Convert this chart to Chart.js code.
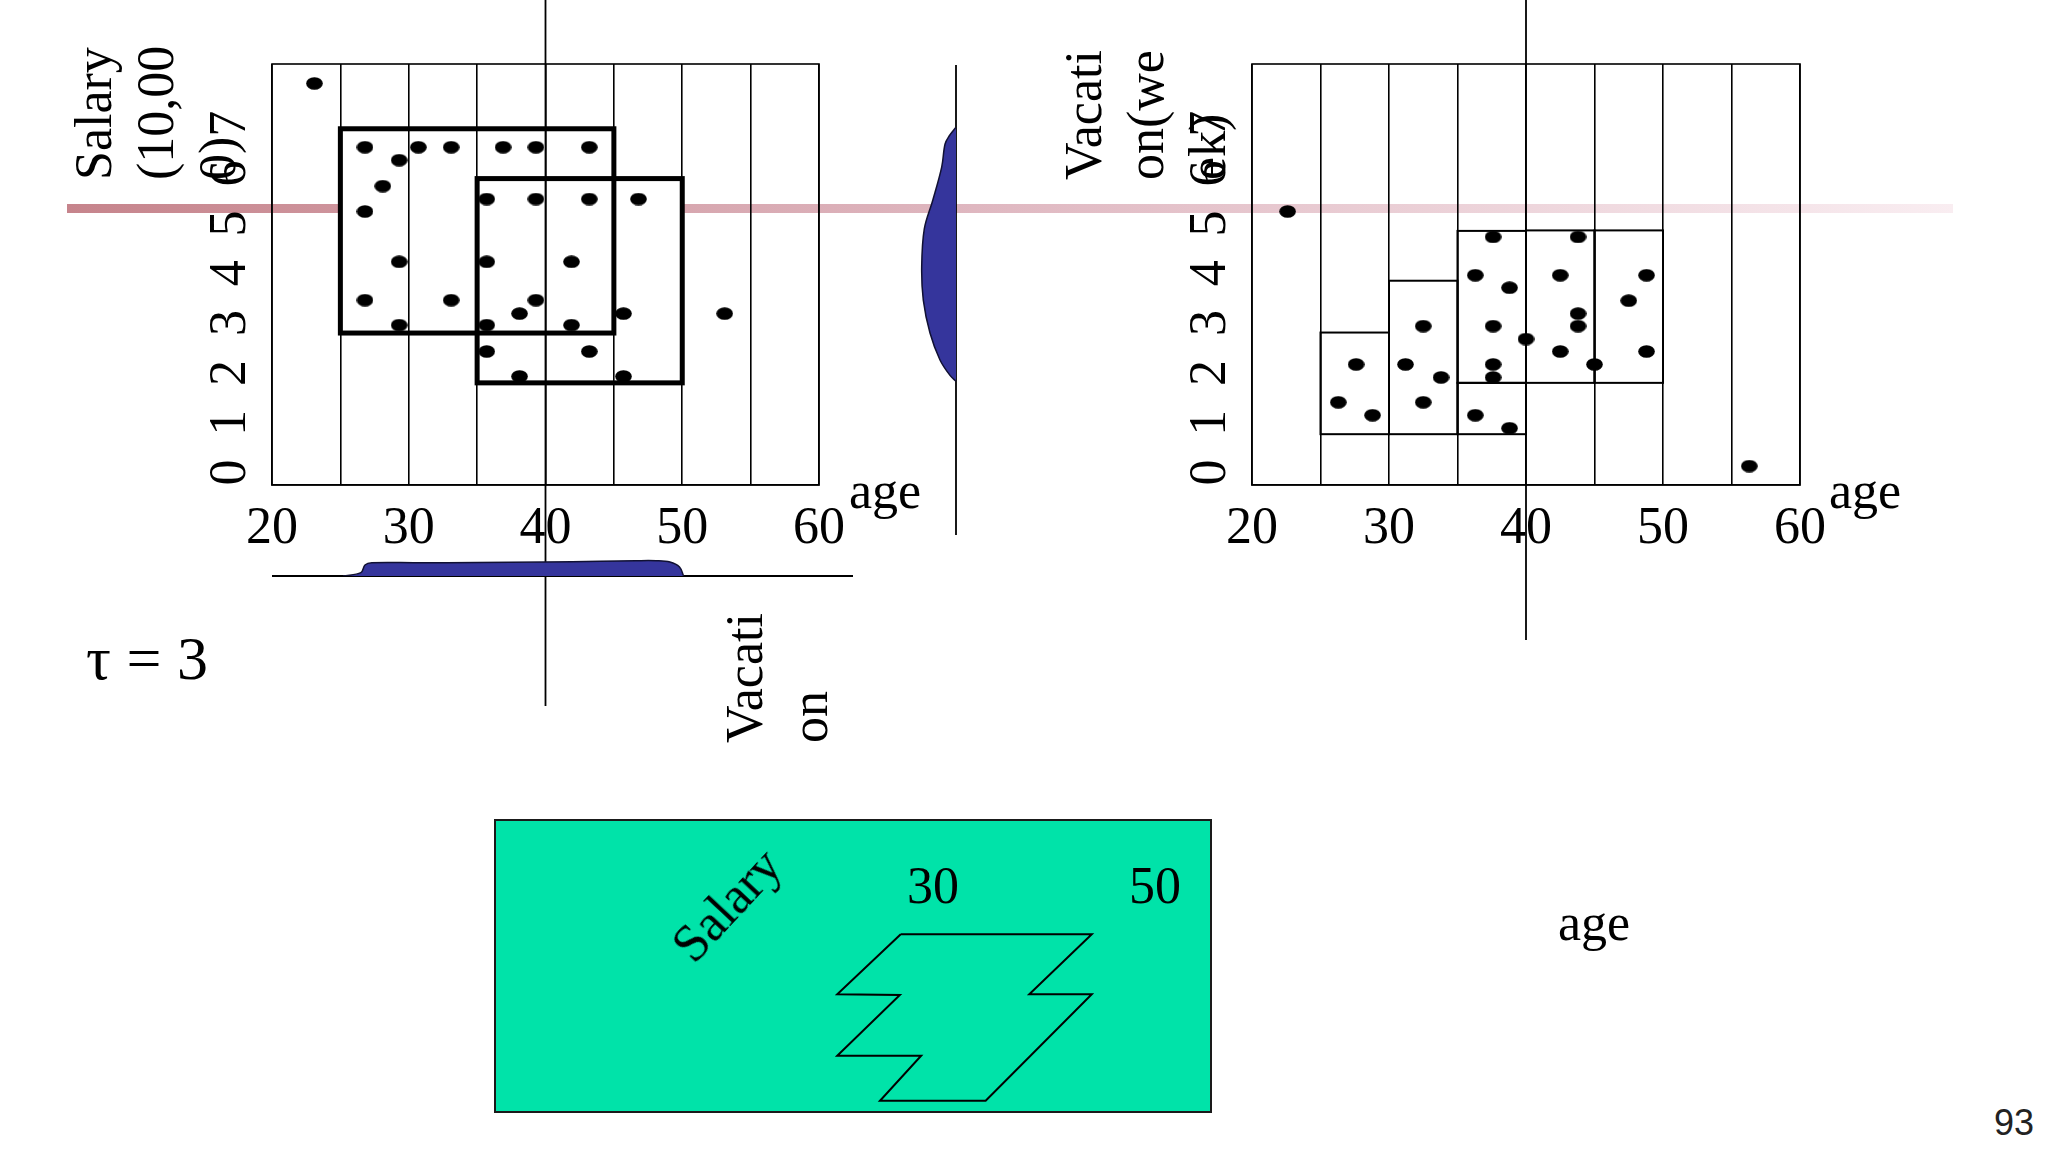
<!DOCTYPE html>
<html>
<head>
<meta charset="utf-8">
<script src="https://cdn.jsdelivr.net/npm/chart.js@4.4.1/dist/chart.umd.min.js"></script>
<style>
  html, body { margin: 0; padding: 0; background: #fff; }
  body { width: 2048px; height: 1152px; position: relative; overflow: hidden;
         font-family: 'Liberation Serif', 'Times New Roman', serif; color: #000; }
  canvas { position: absolute; z-index: 1; }
  .txt { position: absolute; white-space: nowrap; font-size: 52px; line-height: 1.2; z-index: 3; }
  .rot { transform-origin: 0 0; transform: rotate(-90deg); line-height: 62px; }
  #pink { position: absolute; left: 67px; top: 204px; width: 1886px; height: 9px; z-index: 0;
          background: linear-gradient(to right, #c6848c, #e0b9c2 50%, #f9edf1); }
  #greenBox { position: absolute; left: 494px; top: 819px; width: 714px; height: 290px; z-index: 0;
              background: #00e3a9; border: 2px solid #1a1a1a; }
</style>
</head>
<body>
<div id="pink"></div>
<div id="greenBox"></div>

<canvas id="salaryChart" width="1000" height="720" style="left:0;top:0"></canvas>
<canvas id="vacationChart" width="1048" height="720" style="left:1000px;top:0"></canvas>
<canvas id="ageDensity" width="700" height="40" style="left:172px;top:540px"></canvas>
<canvas id="salaryDensity" width="80" height="480" style="left:900px;top:40px"></canvas>
<canvas id="cubeChart" width="718" height="294" style="left:494px;top:819px"></canvas>

<div class="txt rot" style="left:63px;top:180px">Salary<br>(10,00<br>0)</div>
<div class="txt rot" style="left:1053px;top:180px">Vacati<br>on(we<br>ek)</div>
<div class="txt rot" style="left:712px;top:743px;line-height:65px">Vacati<br>on</div>
<div class="txt" style="left:849px;top:460px">age</div>
<div class="txt" style="left:1829px;top:460px">age</div>
<div class="txt" style="left:1558px;top:892px">age</div>
<div class="txt" style="left:86px;top:621px;font-size:62px">τ = 3</div>
<div class="txt" style="left:727px;top:905px;transform:translate(-50%,-50%) rotate(-47deg)">Salary</div>
<div class="txt" style="right:14px;top:1101px;font-family:'Liberation Sans',Arial,sans-serif;font-size:36px;color:#222">93</div>

<script>
// tick labels
const xTickLabels = ["20", "30", "40", "50", "60"];
const yTickLabels = ["0", "1", "2", "3", "4", "5", "6", "7"];
const cubeTicks = [30, 50];

// salary vs age points
const salaryAge = [23.1, 26.8, 30.7, 33.1, 36.9, 39.3, 43.2, 29.3, 28.1, 26.8, 35.7, 39.3, 43.2, 46.8, 29.3,
  35.7, 41.9, 26.8, 33.1, 39.3, 38.1, 45.7, 53.1, 29.3, 35.7, 41.9, 35.7, 43.2, 38.1, 45.7];
const salaryVal = [7.81, 6.53, 6.53, 6.53, 6.53, 6.53, 6.53, 6.27, 5.75, 5.24, 5.49, 5.49, 5.49, 5.49, 4.23,
  4.23, 4.23, 3.46, 3.46, 3.46, 3.19, 3.19, 3.19, 2.96, 2.96, 2.96, 2.43, 2.43, 1.93, 1.93];
// dense regions [age from, age to, salary from, salary to]
const salaryBoxes = [[25, 45, 2.8, 6.9], [35, 50, 1.8, 5.9]];

// vacation vs age points
const vacationAge = [22.6, 37.6, 43.8, 36.3, 42.5, 48.8, 38.8, 47.5, 43.8, 43.8, 32.5, 37.6, 40.0, 42.5,
  48.8, 27.6, 31.2, 37.6, 45.0, 33.8, 37.6, 26.3, 32.5, 28.8, 36.3, 38.8, 56.3];
const vacationVal = [5.24, 4.73, 4.73, 3.96, 3.96, 3.96, 3.71, 3.45, 3.19, 2.94, 2.94, 2.94, 2.68, 2.43,
  2.43, 2.17, 2.17, 2.17, 2.17, 1.91, 1.91, 1.41, 1.41, 1.15, 1.15, 0.89, 0.13];
const vacationBoxes = [[25, 30, 0.77, 2.81], [30, 35, 0.77, 3.85], [35, 40, 0.77, 1.8],
  [35, 40, 1.8, 4.85], [40, 45, 1.8, 4.86], [45, 50, 1.8, 4.86]];

// projections
const ageDensAge = [25.2, 26.5, 26.8, 27.3, 30.6, 35, 39.9, 44, 46.6, 48.1, 49.1, 49.8, 50.1];
const ageDensVal = [0, 3.3, 11, 13.3, 13.3, 13.5, 14, 14.8, 15.3, 15.3, 14, 9, 0];
const salDensSal = [6.93, 6.75, 6.59, 6.13, 5.46, 4.89, 4.13, 3.46, 2.8, 2.26, 1.95, 1.83];
const salDensVal = [0, 7, 11, 14.3, 23.3, 31.7, 34.3, 32.7, 26, 16, 6, 0];

// subspace outline (age, salary-ish)
const cubeX = [27.09, 44.30, 38.67, 44.30, 34.74, 25.22, 28.93, 21.37, 27.01, 21.37, 27.09];
const cubeY = [178.7, 178.7, 118.7, 118.7, 12.3, 12.3, 57.3, 57.3, 118.0, 118.7, 178.7];

const serif = "'Liberation Serif', 'Times New Roman', serif";
Chart.defaults.font.family = serif;
Chart.defaults.color = "#000";
Chart.defaults.animation = false;

const toPoints = (xs, ys) => xs.map((x, i) => ({ x: x, y: ys[i] }));

// slightly oval dot like the slide
const dot = document.createElement("canvas");
dot.width = 17;
dot.height = 13;
const dctx = dot.getContext("2d");
dctx.fillStyle = "#000";
dctx.beginPath();
dctx.ellipse(8.5, 6.5, 8.3, 6.3, 0, 0, Math.PI * 2);
dctx.fill();

const boxPlugin = {
  id: "boxes",
  beforeDraw(chart, args, opts) {
    const { ctx, scales: { x, y } } = chart;
    const rects = opts.boxes.map((b) => {
      const l = x.getPixelForValue(b[0]);
      const r = x.getPixelForValue(b[1]);
      const t = y.getPixelForValue(b[3]);
      const bt = y.getPixelForValue(b[2]);
      return [l, t, r - l, bt - t];
    });
    ctx.save();
    ctx.fillStyle = "#fff";
    rects.forEach((r) => ctx.fillRect(r[0], r[1], r[2], r[3]));
    ctx.strokeStyle = "#000";
    ctx.lineWidth = opts.width;
    rects.forEach((r) => ctx.strokeRect(r[0], r[1], r[2], r[3]));
    ctx.restore();
  },
  afterDraw(chart, args, opts) {
    const { ctx, chartArea: a, scales: { x } } = chart;
    ctx.save();
    ctx.strokeStyle = "#000";
    ctx.lineWidth = 1.6;
    ctx.strokeRect(a.left, a.top, a.right - a.left, a.bottom - a.top);
    // cut at age 40
    const px = x.getPixelForValue(opts.splitAge);
    ctx.lineWidth = 1.8;
    ctx.beginPath();
    ctx.moveTo(px, 0);
    ctx.lineTo(px, opts.splitBottom);
    ctx.stroke();
    (opts.lines || []).forEach((l) => {
      ctx.beginPath();
      ctx.moveTo(l[0], l[1]);
      ctx.lineTo(l[2], l[3]);
      ctx.stroke();
    });
    ctx.restore();
  },
};

function scatterConfig(xs, ys, boxes, boxWidth, padding, splitBottom, lines) {
  return {
    type: "scatter",
    data: {
      datasets: [{ data: toPoints(xs, ys), pointStyle: dot, pointRadius: 8, pointHoverRadius: 8 }],
    },
    options: {
      responsive: false,
      animation: false,
      events: [],
      layout: { padding: padding },
      plugins: {
        legend: { display: false },
        tooltip: { enabled: false },
        boxes: { boxes: boxes, width: boxWidth, splitAge: 40, splitBottom: splitBottom, lines: lines },
      },
      scales: {
        x: {
          type: "linear",
          min: 20,
          max: 60,
          afterFit: (s) => { s.height = 80; },
          ticks: {
            stepSize: 5,
            autoSkip: false,
            maxRotation: 0,
            padding: 13,
            font: { size: 52 },
            color: "#000",
            callback: (v) => (xTickLabels.includes(String(v)) ? String(v) : ""),
          },
          grid: { color: "#000", lineWidth: 1.6, drawTicks: false },
          border: { color: "#000", width: 1.6 },
        },
        y: {
          type: "linear",
          min: -0.25,
          max: 8.2,
          afterFit: (s) => { s.width = 100; },
          afterBuildTicks: (s) => { s.ticks = yTickLabels.map((v) => ({ value: Number(v) })); },
          ticks: {
            autoSkip: false,
            minRotation: 90,
            maxRotation: 90,
            crossAlign: "center",
            padding: 28,
            font: { size: 52 },
            color: "#000",
          },
          grid: { display: false, drawTicks: false },
          border: { display: false },
        },
      },
    },
    plugins: [boxPlugin],
  };
}

new Chart(
  document.getElementById("salaryChart"),
  scatterConfig(salaryAge, salaryVal, salaryBoxes, 5,
    { left: 172, top: 64, right: 181, bottom: 155 }, 706,
    [[272, 576, 853, 576], [956, 65, 956, 535]])
);

new Chart(
  document.getElementById("vacationChart"),
  scatterConfig(vacationAge, vacationVal, vacationBoxes, 2,
    { left: 152, top: 64, right: 248, bottom: 155 }, 640, [])
);

const blobStyle = {
  borderColor: "#111133",
  borderWidth: 1.5,
  backgroundColor: "#35359c",
  pointRadius: 0,
  tension: 0.35,
  fill: "origin",
};

// age projection along the bottom
new Chart(document.getElementById("ageDensity"), {
  type: "line",
  data: { datasets: [Object.assign({ data: toPoints(ageDensAge, ageDensVal) }, blobStyle)] },
  options: {
    responsive: false,
    animation: false,
    events: [],
    layout: { padding: { left: 100, right: 53, top: 16, bottom: 4 } },
    plugins: { legend: { display: false }, tooltip: { enabled: false } },
    scales: {
      x: { type: "linear", min: 20, max: 60, display: false },
      y: { type: "linear", min: 0, max: 20, display: false },
    },
  },
});

// salary projection on the right
new Chart(document.getElementById("salaryDensity"), {
  type: "line",
  data: { datasets: [Object.assign({ data: toPoints(salDensVal, salDensSal) }, blobStyle)] },
  options: {
    indexAxis: "y",
    responsive: false,
    animation: false,
    events: [],
    layout: { padding: { left: 16, right: 24, top: 24, bottom: 35 } },
    plugins: { legend: { display: false }, tooltip: { enabled: false } },
    scales: {
      x: { type: "linear", min: 0, max: 40, reverse: true, display: false },
      y: { type: "linear", min: -0.25, max: 8.2, display: false },
    },
  },
});

// subspace drawing in the green box
new Chart(document.getElementById("cubeChart"), {
  type: "scatter",
  data: {
    datasets: [{
      data: toPoints(cubeX, cubeY),
      showLine: true,
      borderColor: "#000",
      borderWidth: 2,
      pointRadius: 0,
      tension: 0,
      fill: false,
    }],
  },
  options: {
    responsive: false,
    animation: false,
    events: [],
    layout: { padding: { left: 0, right: 0, top: 6, bottom: 0 } },
    plugins: { legend: { display: false }, tooltip: { enabled: false } },
    scales: {
      x: {
        type: "linear",
        position: "top",
        min: -9.55,
        max: 55.13,
        afterFit: (s) => { s.height = 100; },
        afterBuildTicks: (s) => { s.ticks = cubeTicks.map((v) => ({ value: v })); },
        ticks: { autoSkip: false, maxRotation: 0, padding: 4, font: { size: 52 }, color: "#000" },
        grid: { display: false, drawTicks: false },
        border: { display: false },
      },
      y: { type: "linear", min: 0, max: 188, display: false },
    },
  },
});
</script>
</body>
</html>
